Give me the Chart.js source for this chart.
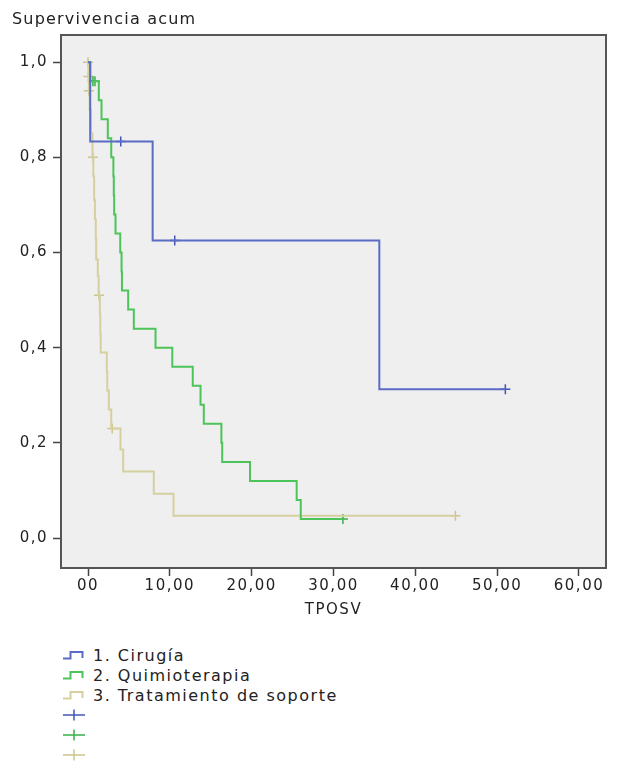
<!DOCTYPE html>
<html>
<head>
<meta charset="utf-8">
<script src="https://cdn.jsdelivr.net/npm/chart.js@4"></script>
<style>
  body { margin: 0; background: #fff; font-family: 'DejaVu Sans', sans-serif; }
  #wrap { position: relative; width: 621px; height: 763px; }
  #c { position: absolute; left: 0; top: 0; }
  #yTitle { position: absolute; left: 12px; top: 9px; font-size: 16px; letter-spacing: 1.2px; color: #222; }
  #legend { position: absolute; left: 63px; top: 645px; font-size: 16px; letter-spacing: 1.5px; color: #222; }
  .row { height: 20px; display: flex; align-items: center; }
  .row svg { margin-right: 8px; flex: none; }
</style>
</head>
<body>
<div id="wrap">
  <canvas id="c" width="621" height="630"></canvas>
  <div id="yTitle">Supervivencia acum</div>
  <div id="legend"></div>
</div>
<script>
// tick labels as SPSS shows them
var xTickValues = [0, 10, 20, 30, 40, 50, 60];
var xTickLabels = ['00', '10,00', '20,00', '30,00', '40,00', '50,00', '60,00'];
var yTickValues = [0, 0.2, 0.4, 0.6, 0.8, 1.0];
var yTickLabels = ['0,0', '0,2', '0,4', '0,6', '0,8', '1,0'];

var groupNames = ['1. Cirugía', '2. Quimioterapia', '3. Tratamiento de soporte'];

// 1. Cirugia - event times and survival after each step
var cirugiaTimes = [0, 0.27, 7.9, 35.6, 51.0];
var cirugiaSurv = [1.0, 0.833, 0.625, 0.3125, 0.3125];
var cirugiaCensTimes = [4.0, 10.6, 51.0];
var cirugiaCensSurv = [0.833, 0.625, 0.3125];

// 2. Quimioterapia
var quimioTimes = [0, 0.27, 1.32, 1.65, 2.42, 2.84, 3.1, 3.15, 3.2, 3.36, 3.94, 4.1, 4.15, 4.91, 5.6, 8.25, 10.3, 12.8, 13.75, 14.15, 16.3, 16.4, 19.8, 25.5, 26.0, 31.15];
var quimioSurv = [1.0, 0.96, 0.92, 0.88, 0.84, 0.80, 0.76, 0.72, 0.68, 0.64, 0.60, 0.56, 0.52, 0.48, 0.44, 0.40, 0.36, 0.32, 0.28, 0.24, 0.20, 0.16, 0.12, 0.08, 0.04, 0.04];
var quimioCensTimes = [0.6, 0.85, 31.15];
var quimioCensSurv = [0.96, 0.96, 0.04];

// 3. Tratamiento de soporte
var soporteTimes = [0, 0.05, 0.1, 0.2, 0.35, 0.55, 0.65, 0.75, 0.85, 0.95, 1.0, 1.2, 1.3, 1.45, 1.5, 1.55, 2.3, 2.35, 2.54, 2.84, 3.97, 4.3, 8.04, 10.45, 44.9];
var soporteSurv = [1.0, 0.97, 0.94, 0.90, 0.85, 0.80, 0.76, 0.71, 0.67, 0.63, 0.585, 0.55, 0.51, 0.47, 0.43, 0.39, 0.35, 0.31, 0.27, 0.23, 0.186, 0.14, 0.093, 0.047, 0.047];
var soporteCensTimes = [0, 0.05, 0.1, 0.6, 1.35, 2.96, 44.9];
var soporteCensSurv = [1.0, 0.97, 0.94, 0.80, 0.51, 0.23, 0.047];

var lineColors = ['#5a6cc6', '#4cc45a', '#d6d0a0'];
var crossColors = ['#4455b8', '#39b04a', '#cdc58e'];

function pts(xs, ys) {
    return xs.map(function(x, i) { return {x: x, y: ys[i]}; });
}

function curve(xs, ys, color) {
    return {
        type: 'line', data: pts(xs, ys), stepped: true,
        borderColor: color, borderWidth: 2, pointRadius: 0, fill: false
    };
}

function censored(xs, ys, color) {
    return {
        type: 'line', data: pts(xs, ys), showLine: false,
        pointStyle: 'cross', pointRadius: 5, pointBorderWidth: 1.5,
        borderColor: color, backgroundColor: color
    };
}

var font = {family: 'DejaVu Sans', size: 15};

var framePlugin = {
    id: 'frame',
    beforeUpdate: function(chart) { chart.ctx.letterSpacing = '1.5px'; },
    beforeDraw: function(chart) {
        var a = chart.chartArea, ctx = chart.ctx;
        ctx.letterSpacing = '1.5px';
        ctx.save();
        ctx.fillStyle = '#efefef';
        ctx.fillRect(a.left, a.top, a.right - a.left, a.bottom - a.top);
        ctx.restore();
    },
    afterDraw: function(chart) {
        var a = chart.chartArea, ctx = chart.ctx;
        ctx.save();
        ctx.strokeStyle = '#555';
        ctx.lineWidth = 2;
        ctx.strokeRect(a.left, a.top, a.right - a.left, a.bottom - a.top);
        ctx.restore();
    }
};

var ctx = document.getElementById('c').getContext('2d');
window.kmChart = new Chart(ctx, {
    type: 'line',
    data: {
        datasets: [
            curve(cirugiaTimes, cirugiaSurv, lineColors[0]),
            curve(quimioTimes, quimioSurv, lineColors[1]),
            curve(soporteTimes, soporteSurv, lineColors[2]),
            censored(cirugiaCensTimes, cirugiaCensSurv, crossColors[0]),
            censored(quimioCensTimes, quimioCensSurv, crossColors[1]),
            censored(soporteCensTimes, soporteCensSurv, crossColors[2])
        ]
    },
    options: {
        responsive: false,
        animation: false,
        layout: {padding: {top: 35, right: 15, left: 0, bottom: 0}},
        plugins: {legend: {display: false}, tooltip: {enabled: false}},
        scales: {
            x: {
                type: 'linear', min: -3.3, max: 63.3,
                afterBuildTicks: function(s) { s.ticks = xTickValues.map(function(v) { return {value: v}; }); },
                afterFit: function(s) { s.height = 62; },
                ticks: {
                    callback: function(v, i) { return xTickLabels[i]; },
                    font: font, color: '#222', padding: 1, maxRotation: 0, autoSkip: false
                },
                grid: {drawOnChartArea: false, tickLength: 8, tickColor: '#444', tickWidth: 1.5},
                border: {display: false},
                title: {display: true, text: 'TPOSV', font: font, color: '#222', padding: {top: 2, bottom: 11}}
            },
            y: {
                type: 'linear', min: -0.063, max: 1.057,
                afterBuildTicks: function(s) { s.ticks = yTickValues.map(function(v) { return {value: v}; }); },
                afterFit: function(s) { s.width = 61; },
                ticks: {
                    callback: function(v, i) { return yTickLabels[i]; },
                    font: font, color: '#222', padding: 5, autoSkip: false
                },
                grid: {drawOnChartArea: false, tickLength: 8, tickColor: '#444', tickWidth: 1.5},
                border: {display: false}
            }
        }
    },
    plugins: [framePlugin]
});

// legend below the chart, one entry per row like SPSS
var legend = document.getElementById('legend');
function addRow(svg, text) {
    var row = document.createElement('div');
    row.className = 'row';
    row.innerHTML = svg + (text ? '<span>' + text + '</span>' : '');
    legend.appendChild(row);
}
groupNames.forEach(function(name, i) {
    addRow('<svg width="22" height="12"><path d="M0 9.5 H7.5 V3 H19.5 V9" fill="none" stroke="' +
        lineColors[i] + '" stroke-width="2"/></svg>', name);
});
crossColors.forEach(function(c) {
    addRow('<svg width="22" height="12"><path d="M0 6 H22 M11 0.5 V11.5" fill="none" stroke="' +
        c + '" stroke-width="1.5"/></svg>', '');
});
</script>
</body>
</html>
